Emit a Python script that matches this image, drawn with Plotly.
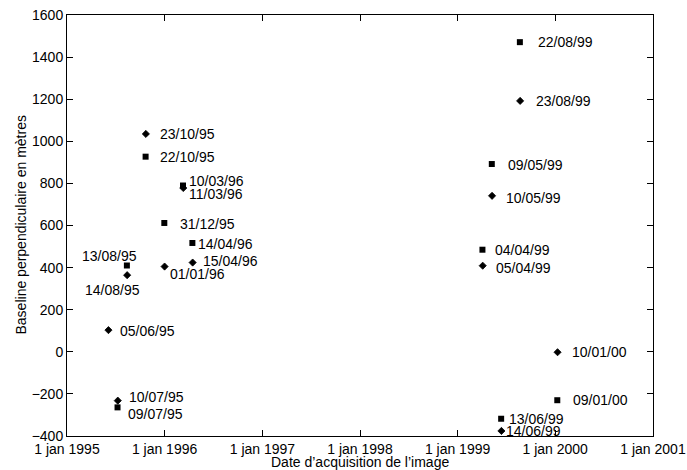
import plotly.graph_objects as go

# ---- data ----
square_dates = ["1995-10-22", "1996-03-10", "1995-12-31", "1996-04-14", "1995-08-13",
                "1995-07-09", "1999-08-22", "1999-05-09", "1999-04-04", "2000-01-09",
                "1999-06-13"]
square_baselines = [927, 790, 612, 517, 410, -264, 1471, 892, 485, -230, -318]
square_labels = ["22/10/95", "10/03/96", "31/12/95", "14/04/96", "13/08/95",
                 "09/07/95", "22/08/99", "09/05/99", "04/04/99", "09/01/00",
                 "13/06/99"]

diamond_dates = ["1995-10-23", "1996-03-11", "1996-04-15", "1996-01-01", "1995-08-14",
                 "1995-06-05", "1995-07-10", "1999-08-23", "1999-05-10", "1999-04-05",
                 "2000-01-10", "1999-06-14"]
diamond_baselines = [1035, 778, 424, 405, 364, 103, -232, 1192, 741, 409, -2, -376]
diamond_labels = ["23/10/95", "11/03/96", "15/04/96", "01/01/96", "14/08/95",
                  "05/06/95", "10/07/95", "23/08/99", "10/05/99", "05/04/99",
                  "10/01/00", "14/06/99"]

tick_dates = ["1995-01-01", "1996-01-01", "1997-01-01", "1998-01-01",
              "1999-01-01", "2000-01-01", "2001-01-01"]
tick_labels = ["1 jan 1995", "1 jan 1996", "1 jan 1997", "1 jan 1998",
               "1 jan 1999", "1 jan 2000", "1 jan 2001"]

x_title = "Date d’acquisition de l’image"
y_title = "Baseline perpendiculaire en mètres"

# ---- label placement (pixel offsets: dx right, dy down; anchor) ----
square_offsets = {
    "22/10/95": (13, 0, "left"), "10/03/96": (5, -5, "left"),
    "31/12/95": (15, 1, "left"), "14/04/96": (5, 1, "left"),
    "13/08/95": (11, -10, "right"), "09/07/95": (9, 7, "left"),
    "22/08/99": (17, 0, "left"), "09/05/99": (15, 1, "left"),
    "04/04/99": (12, 0, "left"), "09/01/00": (15, 0, "left"),
    "13/06/99": (7, 0, "left"),
}
diamond_offsets = {
    "23/10/95": (13, 0, "left"), "11/03/96": (5, 6, "left"),
    "15/04/96": (9, -2, "left"), "01/01/96": (4, 7, "left"),
    "14/08/95": (14, 15, "right"), "05/06/95": (11, 1, "left"),
    "10/07/95": (10, -4, "left"), "23/08/99": (15, 0, "left"),
    "10/05/99": (13, 2, "left"), "05/04/99": (12, 2, "left"),
    "10/01/00": (13, 0, "left"), "14/06/99": (4, 0, "left"),
}

FONT = "Liberation Sans, Arial, Helvetica, sans-serif"

fig = go.Figure()
fig.add_trace(go.Scatter(x=square_dates, y=square_baselines, mode="markers",
                         marker=dict(symbol="square", size=6, color="black"),
                         showlegend=False, hoverinfo="skip"))
fig.add_trace(go.Scatter(x=diamond_dates, y=diamond_baselines, mode="markers",
                         marker=dict(symbol="diamond", size=5.5, color="black",
                                     line=dict(color="black", width=0.8)),
                         showlegend=False, hoverinfo="skip"))

annotations = []
for dates, vals, labels, offs in [
    (square_dates, square_baselines, square_labels, square_offsets),
    (diamond_dates, diamond_baselines, diamond_labels, diamond_offsets),
]:
    for d, v, lab in zip(dates, vals, labels):
        dx, dy, anc = offs[lab]
        annotations.append(dict(
            x=d, y=v, xref="x", yref="y", text=lab, showarrow=False,
            xanchor=anc, yanchor="middle", xshift=dx, yshift=-dy,
            font=dict(family=FONT, size=14, color="black"), borderpad=0,
        ))

# axis titles as annotations for exact placement
annotations.append(dict(text=x_title, x=0.5, y=0, xref="paper", yref="paper",
                        xanchor="center", yanchor="middle", yshift=-26,
                        showarrow=False, borderpad=0,
                        font=dict(family=FONT, size=14, color="black")))
annotations.append(dict(text=y_title, x=0, y=0.5, xref="paper", yref="paper",
                        xanchor="center", yanchor="middle", xshift=-47,
                        textangle=-90, showarrow=False, borderpad=0,
                        font=dict(family=FONT, size=14, color="black")))

fig.update_layout(
    width=687, height=470,
    margin=dict(l=67, r=34, t=15, b=34, autoexpand=False),
    paper_bgcolor="white", plot_bgcolor="white",
    font=dict(family=FONT, size=14, color="black"),
    annotations=annotations,
    xaxis=dict(
        type="date", range=["1995-01-01", "2001-01-01"],
        tickvals=tick_dates, ticktext=tick_labels,
        showline=True, linecolor="black", linewidth=1, mirror="ticks",
        ticks="inside", ticklen=6, tickcolor="black", tickwidth=1,
        showgrid=False, zeroline=False, automargin=False,
        tickfont=dict(size=14),
    ),
    yaxis=dict(
        range=[-400, 1600], dtick=200, tick0=0,
        showline=True, linecolor="black", linewidth=1, mirror="ticks",
        ticks="inside", ticklen=6, tickcolor="black", tickwidth=1,
        showgrid=False, zeroline=False, automargin=False,
        tickfont=dict(size=14),
    ),
)

fig.write_html("out.html")
